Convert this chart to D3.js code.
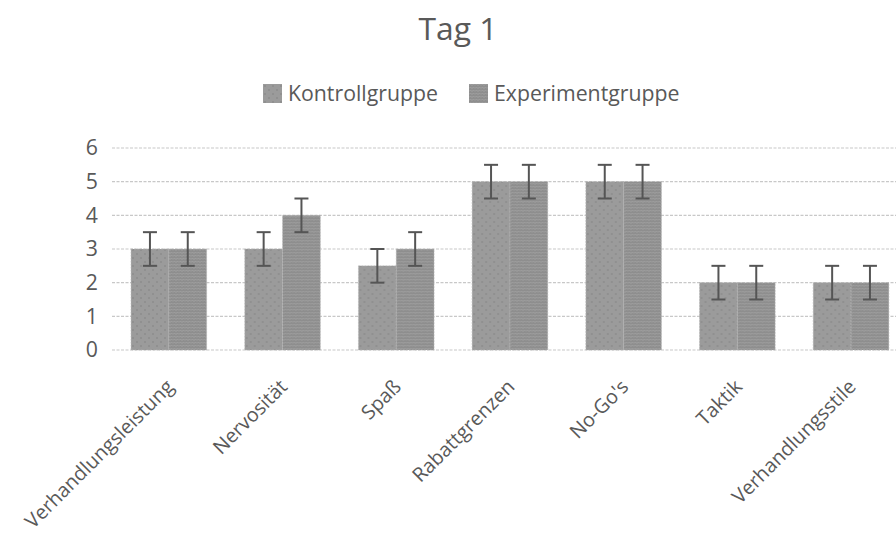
<!DOCTYPE html>
<html><head><meta charset="utf-8">
<script src="https://cdn.jsdelivr.net/npm/d3@7"></script>
<style>body{margin:0;background:#fff;overflow:hidden}</style>
</head><body>
<script>
const categories = ["Verhandlungsleistung","Nervosität","Spaß","Rabattgrenzen","No-Go's","Taktik","Verhandlungsstile"];
const seriesNames = ["Kontrollgruppe","Experimentgruppe"];
const kontroll = [3,3,2.5,5,5,2,2];
const experiment = [3,4,3,5,5,2,2];
const errKontroll = [0.5,0.5,0.5,0.5,0.5,0.5,0.5];
const errExperiment = [0.5,0.5,0.5,0.5,0.5,0.5,0.5];
const yTicks = [0,1,2,3,4,5,6];
const title = "Tag 1";

const W=896,H=535;
const font = "'Open Sans', sans-serif";
const txt = "#595959";
const svg=d3.select("body").append("svg").attr("width",W).attr("height",H);
const defs=svg.append("defs");
const p1=defs.append("pattern").attr("id","pK").attr("width",8).attr("height",8).attr("patternUnits","userSpaceOnUse");
p1.append("rect").attr("width",8).attr("height",8).attr("fill","#9b9b9b");
p1.append("circle").attr("cx",2).attr("cy",2).attr("r",0.7).attr("fill","#7d7d7d");
p1.append("circle").attr("cx",6).attr("cy",6).attr("r",0.7).attr("fill","#7d7d7d");
const p2=defs.append("pattern").attr("id","pE").attr("width",6).attr("height",6).attr("patternUnits","userSpaceOnUse");
p2.append("rect").attr("width",6).attr("height",6).attr("fill","#8e8e8e");
p2.append("path").attr("d","M0,1.5 L1.5,0 L3,1.5 L4.5,0 L6,1.5 M0,4.5 L1.5,3 L3,4.5 L4.5,3 L6,4.5").attr("stroke","#a6a6a6").attr("stroke-width",0.8).attr("fill","none");

function fit(sel, target){
  const w=sel.node().getComputedTextLength();
  const fs=parseFloat(sel.attr("font-size"));
  const nfs=fs*target/w; sel.attr("font-size",nfs); return nfs;
}

const left=112, step=113.7;
const x=d3.scaleBand().domain(categories).range([left,left+step*categories.length]).paddingInner(0.335).paddingOuter(0.1675);
const x1=d3.scaleBand().domain(seriesNames).range([0,x.bandwidth()]);
const y=d3.scaleLinear().domain([0,6]).range([350,148]);

const t=svg.append("text").attr("x",458).attr("y",40).attr("text-anchor","middle").attr("font-family",font).attr("font-size",26).attr("fill",txt).text(title);
fit(t,79);

svg.append("g").selectAll("line").data(yTicks).join("line")
 .attr("x1",left).attr("x2",W).attr("y1",d=>y(d)).attr("y2",d=>y(d))
 .attr("stroke","#c8c8c8").attr("stroke-width",1.2).attr("stroke-dasharray","3,1.5");

const leg=[{n:seriesNames[0],f:"url(#pK)",x:263},{n:seriesNames[1],f:"url(#pE)",x:469}];
const lg=svg.append("g").selectAll("g").data(leg).join("g").attr("transform",d=>`translate(${d.x},84)`);
lg.append("rect").attr("width",19).attr("height",19).attr("fill",d=>d.f);
const lt=lg.append("text").attr("x",25).attr("y",10).attr("dy","0.35em").attr("font-family",font).attr("font-size",17).attr("fill",txt).text(d=>d.n);
const fs=fit(d3.select(lt.nodes()[0]),150);
lt.attr("font-size",fs);

svg.append("g").selectAll("text").data(yTicks).join("text")
 .attr("x",98).attr("y",d=>y(d)).attr("dy","0.35em").attr("text-anchor","end")
 .attr("font-family",font).attr("font-size",fs).attr("fill",txt).text(d=>d);

const data=categories.map((c,i)=>({c,vals:[{s:seriesNames[0],v:kontroll[i],e:errKontroll[i],f:"url(#pK)"},{s:seriesNames[1],v:experiment[i],e:errExperiment[i],f:"url(#pE)"}]}));
const g=svg.append("g").selectAll("g").data(data).join("g").attr("transform",d=>`translate(${x(d.c)},0)`);
g.selectAll("rect").data(d=>d.vals).join("rect")
 .attr("x",d=>x1(d.s)).attr("width",x1.bandwidth()).attr("y",d=>y(d.v)).attr("height",d=>y(0)-y(d.v))
 .attr("fill",d=>d.f).attr("stroke","#b5b5b5").attr("stroke-width",0.6).attr("stroke-dasharray","2,1");
const eb=g.selectAll("g.eb").data(d=>d.vals).join("g").attr("class","eb")
 .attr("transform",d=>`translate(${x1(d.s)+x1.bandwidth()/2},0)`);
eb.append("line").attr("y1",d=>y(d.v-d.e)).attr("y2",d=>y(d.v+d.e)).attr("stroke","#555").attr("stroke-width",2);
eb.append("line").attr("x1",-7).attr("x2",7).attr("y1",d=>y(d.v+d.e)).attr("y2",d=>y(d.v+d.e)).attr("stroke","#555").attr("stroke-width",2);
eb.append("line").attr("x1",-7).attr("x2",7).attr("y1",d=>y(d.v-d.e)).attr("y2",d=>y(d.v-d.e)).attr("stroke","#555").attr("stroke-width",2);

svg.append("g").selectAll("text").data(categories).join("text")
 .attr("transform",d=>`translate(${x(d)+x.bandwidth()/2+6},${388}) rotate(-45)`)
 .attr("text-anchor","end").attr("font-family",font).attr("font-size",fs*0.93).attr("fill",txt).text(d=>d);
</script>
</body></html>
